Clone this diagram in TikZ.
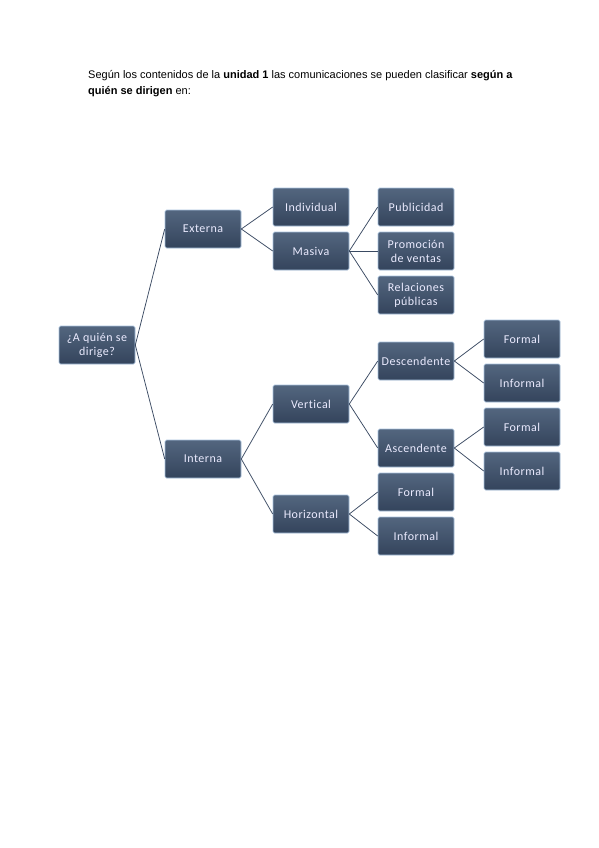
\documentclass[tikz,border=0pt]{standalone}
\usepackage{fontspec}
\setmainfont{Liberation Sans}
\newfontfamily\cajafont[LetterSpace=4, Ligatures=NoCommon]{Carlito}
\definecolor{cajaarriba}{HTML}{53667F}
\definecolor{cajaabajo}{HTML}{34445C}
\definecolor{cajaborde}{HTML}{A8C2DE}
\definecolor{linea}{HTML}{3A4A62}
\tikzset{
    caja/.style={rounded corners=1.5pt, top color=cajaarriba, bottom color=cajaabajo,
        draw=cajaborde, line width=0.6pt, minimum width=76pt, minimum height=38pt,
        text=white!92!blue, align=center, inner sep=1pt,
        font=\cajafont\fontsize{12}{14}\selectfont},
    rama/.style={linea, line width=0.75pt}
}
\begin{document}
\begin{tikzpicture}[x=1pt, y=-1pt]
        \useasboundingbox (0,0) rectangle (599,848);
        % Texto de cabecera
        \node[anchor=north west, align=left, inner sep=0pt, font=\fontsize{11}{16}\selectfont] (cabecera) at (88,70)
            {Según los contenidos de la \textbf{unidad 1} las comunicaciones se pueden clasificar \textbf{según a}\\
             \textbf{quién se dirigen} en:};

        % Raiz
        \node[caja] (raiz) at (97,345) {¿A quién se\\dirige?};

        % Primer nivel
        \node[caja] (externa) at (203,229) {Externa};
        \node[caja] (interna) at (203,459) {Interna};

        % Rama externa
        \node[caja] (individual) at (311,207) {Individual};
        \node[caja] (masiva) at (311,251) {Masiva};
        \node[caja] (publicidad) at (416,207) {Publicidad};
        \node[caja] (promocion) at (416,251) {Promoción\\de ventas};
        \node[caja] (relaciones) at (416,295) {Relaciones\\públicas};

        % Rama interna
        \node[caja] (vertical) at (311,404) {Vertical};
        \node[caja] (horizontal) at (311,514) {Horizontal};
        \node[caja] (descendente) at (416,361) {Descendente};
        \node[caja] (ascendente) at (416,448) {Ascendente};
        \node[caja] (formalH) at (416,492) {Formal};
        \node[caja] (informalH) at (416,536) {Informal};
        \node[caja] (formalD) at (522,339) {Formal};
        \node[caja] (informalD) at (522,383) {Informal};
        \node[caja] (formalA) at (522,427) {Formal};
        \node[caja] (informalA) at (522,471) {Informal};

        % Conectores
        \draw[rama] (raiz.east) -- (externa.west);
        \draw[rama] (raiz.east) -- (interna.west);
        \draw[rama] (externa.east) -- (individual.west);
        \draw[rama] (externa.east) -- (masiva.west);
        \draw[rama] (masiva.east) -- (publicidad.west);
        \draw[rama] (masiva.east) -- (promocion.west);
        \draw[rama] (masiva.east) -- (relaciones.west);
        \draw[rama] (interna.east) -- (vertical.west);
        \draw[rama] (interna.east) -- (horizontal.west);
        \draw[rama] (vertical.east) -- (descendente.west);
        \draw[rama] (vertical.east) -- (ascendente.west);
        \draw[rama] (horizontal.east) -- (formalH.west);
        \draw[rama] (horizontal.east) -- (informalH.west);
        \draw[rama] (descendente.east) -- (formalD.west);
        \draw[rama] (descendente.east) -- (informalD.west);
        \draw[rama] (ascendente.east) -- (formalA.west);
        \draw[rama] (ascendente.east) -- (informalA.west);
    \end{tikzpicture}
\end{document}
